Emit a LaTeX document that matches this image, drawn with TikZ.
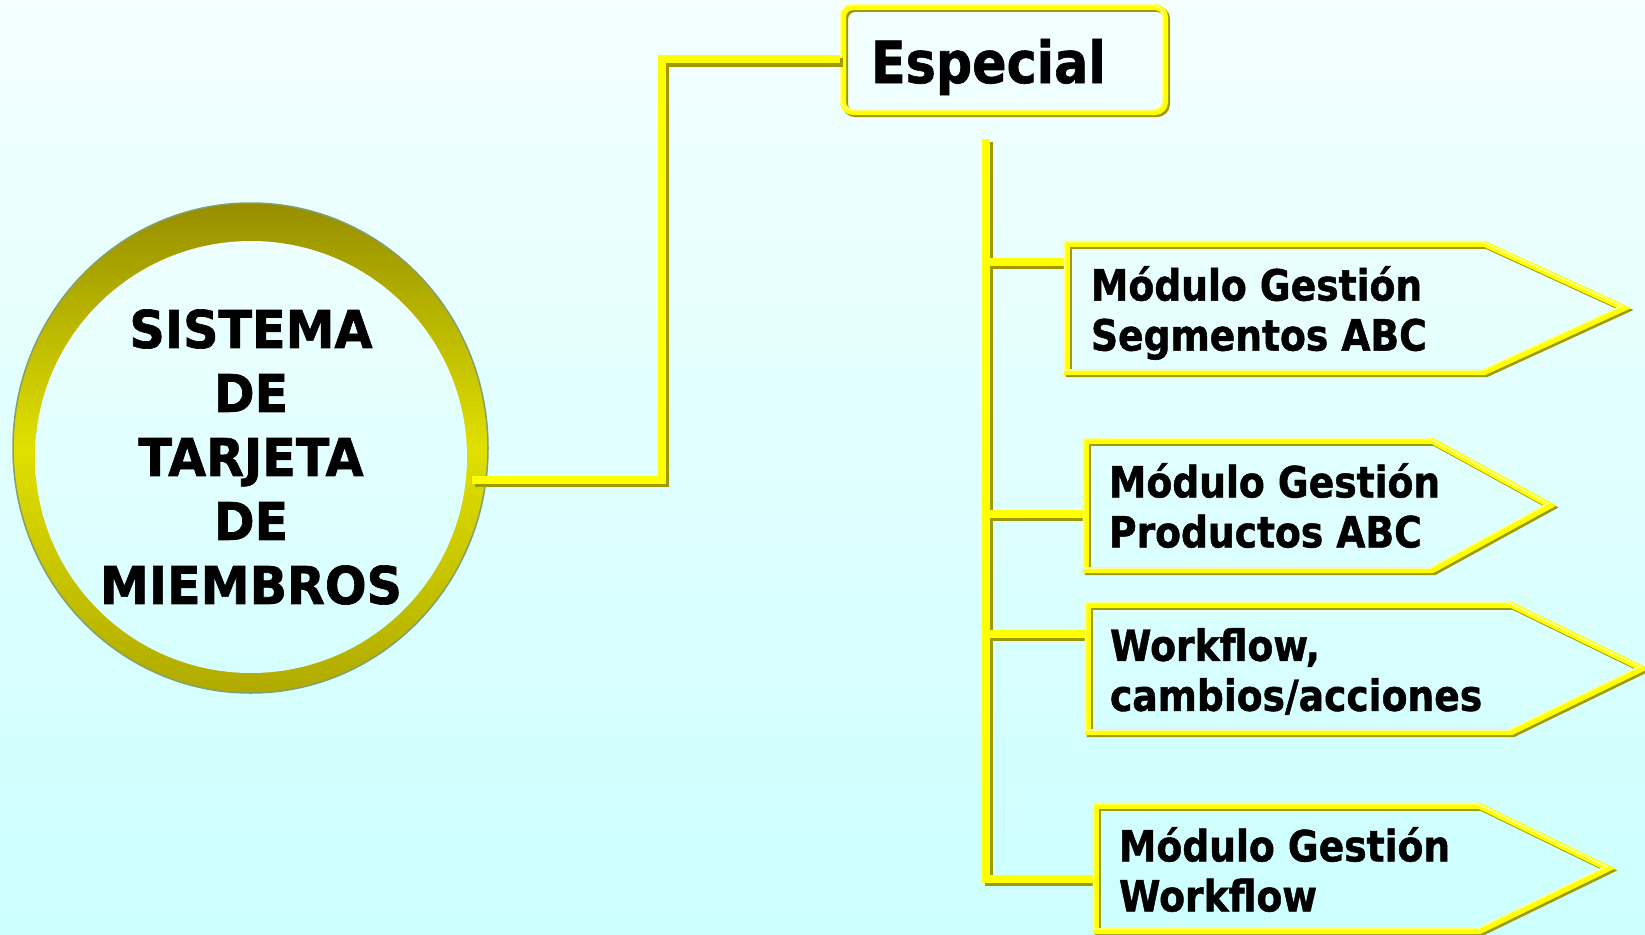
\documentclass[tikz,border=0pt]{standalone}
\usepackage{fontspec}
\usepackage{tikz}
\usetikzlibrary{positioning}
\newfontfamily\ringfont[FakeStretch=0.945, FakeBold=1.3]{DejaVu Sans}
\newfontfamily\boxfont[FakeStretch=0.875, FakeBold=1.1]{DejaVu Sans}
\definecolor{ylw}{RGB}{255,255,0}
\definecolor{ylwlite}{RGB}{255,255,150}
\definecolor{shd}{RGB}{158,154,0}
\definecolor{bgtop}{RGB}{244,255,255}
\definecolor{bgbot}{RGB}{204,255,255}
\definecolor{ringtop}{RGB}{150,142,0}
\definecolor{ringmid}{RGB}{224,224,0}
\definecolor{ringbot}{RGB}{176,170,0}
\definecolor{ringedge}{RGB}{130,160,110}
\definecolor{intop}{RGB}{238,255,255}
\definecolor{inbot}{RGB}{214,255,255}
\tikzstyle{pipe}=[draw=ylw, line width=8pt, preaction={draw=shd, line width=8pt, transform canvas={shift={(3pt,-3pt)}}}]
\tikzstyle{frame}=[draw=ylw, line width=6pt, preaction={draw=shd, line width=6pt, transform canvas={shift={(2pt,-2pt)}}}, postaction={draw=ylwlite, line width=1.5pt, transform canvas={shift={(-2.2pt,2.2pt)}}}]
\tikzstyle{body}=[rectangle, inner sep=0pt, draw=none]
\tikzstyle{modtext}=[inner sep=0pt, align=left, font=\boxfont\bfseries\fontsize{43}{50}\selectfont]

\begin{document}
\begin{tikzpicture}[x=1pt, y=-1pt]
\useasboundingbox (0,0) rectangle (1645,934);
% the background
\fill[top color=bgtop, bottom color=bgbot] (0,0) rectangle (1645,934);
% the ring round the system
\draw[ringedge, line width=1.5pt, top color=ringtop, bottom color=ringbot, middle color=ringmid] (250.5,448) ellipse [x radius=237.5pt, y radius=245pt];
\node[circle, minimum size=432pt, inner sep=0pt, top color=intop, bottom color=inbot, align=center, font=\ringfont\bfseries\fontsize{52}{64}\selectfont] (S) at (251,457) {SISTEMA\\DE\\TARJETA\\DE\\MIEMBROS};
% the ``Especial'' box
\node[frame, rounded corners=10pt, minimum width=322pt, minimum height=105pt, inner xsep=28pt, inner ysep=0pt, text width=266pt, align=left, text height=47pt, text depth=0pt, font=\boxfont\bfseries\fontsize{58}{60}\selectfont] (E) at (1004,59.5) {Especial};
% the module bodies
\node[body, minimum width=417pt, minimum height=128pt] (M1) at (1275.5,308) {};
\node[body, minimum width=346pt, minimum height=129pt] (M2) at (1259,505.5) {};
\node[body, minimum width=423pt, minimum height=127pt] (M3) at (1299.5,668.5) {};
\node[body, minimum width=383pt, minimum height=125pt] (M4) at (1287.5,868.5) {};
% the spine and its branches
\coordinate (P0) at (986,139);
\coordinate (P1) at (986,262);
\coordinate (P2) at (986,514);
\coordinate (P3) at (986,634);
\coordinate (P4) at (986,879);
\draw[pipe] ([xshift=6pt]S.-6.4) -- ++(190,0) |- (E.west);
\draw[pipe] (P0) -- (P4) -- (P4 -| M4.west) (P1) -- (P1 -| M1.west) (P2) -- (P2 -| M2.west) (P3) -- (P3 -| M3.west);
% the arrow shaped frames
\draw[frame] (M1.north west) -- (M1.north east) -- ([xshift=140pt]M1.east) -- (M1.south east) -- (M1.south west) -- cycle;
\draw[frame] (M2.north west) -- (M2.north east) -- ([xshift=118pt]M2.east) -- (M2.south east) -- (M2.south west) -- cycle;
\draw[frame] (M3.north west) -- (M3.north east) -- ([xshift=131pt]M3.east) -- (M3.south east) -- (M3.south west) -- cycle;
\draw[frame] (M4.north west) -- (M4.north east) -- ([xshift=129pt]M4.east) -- (M4.south east) -- (M4.south west) -- cycle;
% the module texts
\node[modtext, right=24pt of M1.west, yshift=-5pt] (T1) {Módulo Gestión\\Segmentos ABC};
\node[modtext, right=23pt of M2.west] (T2) {Módulo Gestión\\Productos ABC};
\node[modtext, right=22pt of M3.west, yshift=-3pt] (T3) {Workflow,\\cambios/acciones};
\node[modtext, right=23pt of M4.west, yshift=-1pt] (T4) {Módulo Gestión\\Workflow};
\end{tikzpicture}
\end{document}
